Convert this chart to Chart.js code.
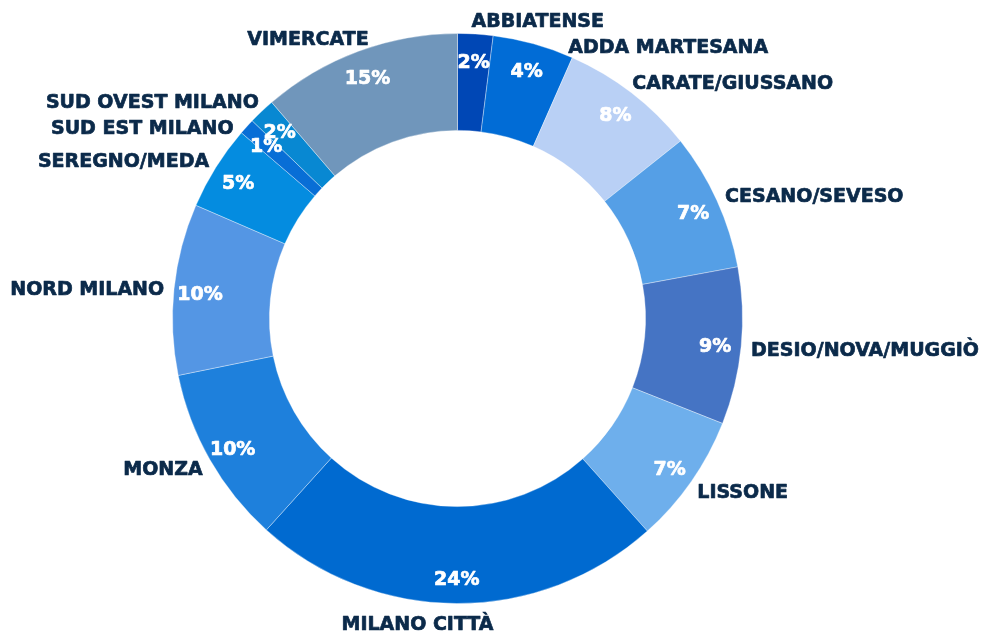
<!DOCTYPE html>
<html>
<head>
<meta charset="utf-8">
<script src="https://cdn.jsdelivr.net/npm/chart.js@4"></script>
<style>
  html, body { margin: 0; padding: 0; background: #fff; }
  #wrap { width: 990px; height: 634px; }
</style>
</head>
<body>
<div id="wrap"><canvas id="zoneChart"></canvas></div>
<script>
// zones, clockwise from the top
const zones = ['ABBIATENSE', 'ADDA MARTESANA', 'CARATE/GIUSSANO', 'CESANO/SEVESO',
  'DESIO/NOVA/MUGGIÒ', 'LISSONE', 'MILANO CITTÀ', 'MONZA', 'NORD MILANO',
  'SEREGNO/MEDA', 'SUD EST MILANO', 'SUD OVEST MILANO', 'VIMERCATE'];
// slice sizes as drawn in the picture
const shares = [2.0, 4.6, 7.7, 7.8, 8.9, 7.4, 23.3, 10.1, 9.7, 4.8, 0.9, 1.5, 11.3];
// percentages printed on the slices
const shareLabels = ['2%', '4%', '8%', '7%', '9%', '7%', '24%', '10%', '10%', '5%', '1%', '2%', '15%'];
const sliceColors = ['#0047b5', '#016cd6', '#b9d0f5', '#559fe6', '#4574c4', '#6eafec',
  '#006ad0', '#1e80dc', '#5496e4', '#048ce0', '#086ed6', '#0888d2', '#7096bb'];

const FONT = 'bold 19px "DejaVu Sans", sans-serif';
const NAVY = '#0b2a4a';

// draw text a touch heavier than plain bold
function heavyText(ctx, txt, x, y) {
    ctx.strokeText(txt, x, y);
    ctx.fillText(txt, x, y);
}

const labelPlugin = {
    id: 'zoneLabels',
    afterDatasetsDraw(chart) {
        const ctx = chart.ctx;
        const arcs = chart.getDatasetMeta(0).data;
        if (!arcs.length) return;
        const cx = arcs[0].x, cy = arcs[0].y;
        const outer = arcs[0].outerRadius, inner = arcs[0].innerRadius;
        const shiftY = 3;

        ctx.save();
        ctx.font = FONT;
        ctx.textBaseline = 'middle';
        ctx.lineWidth = 0.7;
        ctx.lineJoin = 'round';

        // Percentages inside the ring
        ctx.fillStyle = '#fff';
        ctx.strokeStyle = '#fff';
        ctx.textAlign = 'center';
        const pr = inner + (outer - inner) * 0.73;
        arcs.forEach((arc, i) => {
            const mid = (arc.startAngle + arc.endAngle) / 2;
            heavyText(ctx, shareLabels[i], cx + Math.cos(mid) * pr, cy + Math.sin(mid) * pr + shiftY);
        });

        // Zone names outside, split by side and spread vertically
        const ry = outer + 15, rx = outer + 10;
        const left = [], right = [], bottom = [];
        arcs.forEach((arc, i) => {
            const mid = (arc.startAngle + arc.endAngle) / 2;
            const item = { i, y: cy + Math.sin(mid) * ry, c: Math.cos(mid) };
            if (Math.abs(item.c) < 0.03) bottom.push(item);
            else if (item.c > 0) right.push(item);
            else left.push(item);
        });
        [left, right].forEach(side => {
            side.sort((a, b) => a.y - b.y);
            for (let k = 1; k < side.length; k++) {
                side[k].y = Math.max(side[k].y, side[k - 1].y + 26);
            }
        });

        ctx.fillStyle = NAVY;
        ctx.strokeStyle = NAVY;
        right.forEach(it => {
            const dy = it.y - cy;
            const dx = Math.max(Math.sqrt(Math.max(rx * rx - dy * dy, 0)), 14);
            ctx.textAlign = 'left';
            heavyText(ctx, zones[it.i], cx + dx, it.y + shiftY);
        });
        left.forEach(it => {
            const dy = it.y - cy;
            const dx = Math.max(Math.sqrt(Math.max(rx * rx - dy * dy, 0)), 14);
            ctx.textAlign = 'right';
            heavyText(ctx, zones[it.i], cx - dx, it.y + shiftY);
        });
        bottom.forEach(it => {
            ctx.textAlign = 'center';
            heavyText(ctx, zones[it.i], cx - 40, cy + outer + 22);
        });
        ctx.restore();
    }
};

new Chart(document.getElementById('zoneChart'), {
    type: 'doughnut',
    data: {
        labels: zones,
        datasets: [{
            data: shares,
            backgroundColor: sliceColors,
            borderColor: 'rgba(255,255,255,0.35)',
            borderWidth: 1
        }]
    },
    options: {
        responsive: true,
        maintainAspectRatio: false,
        animation: false,
        cutout: '66%',
        layout: { padding: { top: 33, bottom: 30, left: 100, right: 175 } },
        plugins: {
            legend: { display: false },
            tooltip: { enabled: false }
        }
    },
    plugins: [labelPlugin]
});
</script>
</body>
</html>
